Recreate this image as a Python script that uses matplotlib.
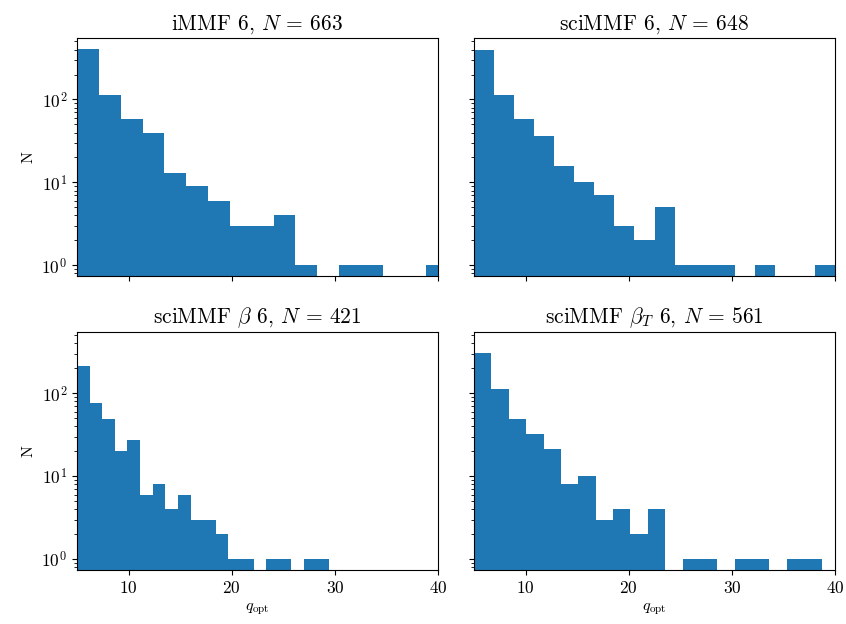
import numpy as np
import matplotlib
matplotlib.use('Agg')
import matplotlib.pyplot as plt

plt.rcParams['font.family'] = 'serif'
plt.rcParams['font.serif'] = ['cmr10']
plt.rcParams['mathtext.fontset'] = 'cm'
plt.rcParams['axes.formatter.use_mathtext'] = True

# histogram counts per panel
titles = ['iMMF 6, $N$ = 663', 'sciMMF 6, $N$ = 648',
          r'sciMMF $\beta$ 6, $N$ = 421', r'sciMMF $\beta_T$ 6, $N$ = 561']

counts_immf = [411, 113, 58, 39, 13, 9, 6, 3, 3, 4, 1, 0, 1, 1, 0, 0, 1]
counts_sci = [393, 113, 58, 36, 16, 10, 7, 3, 2, 5, 1, 1, 1, 0, 1, 0, 0, 1]
counts_beta = [210, 77, 49, 20, 27, 6, 8, 4, 6, 3, 3, 2, 1, 1, 0, 1, 1, 0, 1, 1]
counts_betat = [309, 113, 49, 32, 21, 8, 10, 3, 4, 2, 4, 0, 1, 1, 0, 1, 1, 0, 1, 1]

# bin range (min, max) of q_opt in each panel
ranges = [(5, 41), (5, 40), (5, 29.47), (5, 38.7)]

all_counts = [counts_immf, counts_sci, counts_beta, counts_betat]

fig, axes = plt.subplots(2, 2, sharex=True, sharey=True, figsize=(8.46, 6.24), dpi=100)
fig.subplots_adjust(left=0.091, right=0.987, top=0.939, bottom=0.0865,
                    wspace=0.1, hspace=0.233)

for ax, title, counts, (lo, hi) in zip(axes.flat, titles, all_counts, ranges):
    edges = np.linspace(lo, hi, len(counts) + 1)
    ax.hist(edges[:-1], bins=edges, weights=counts, log=True, color='#1f77b4')
    ax.set_title(title, fontsize=15.5)
    ax.tick_params(labelsize=12.5)

for ax in axes[:, 0]:
    ax.set_ylabel('N', fontsize=11.5)
for ax in axes[1, :]:
    ax.set_xlabel(r'$q_\mathrm{opt}$', fontsize=11.5)

axes[0, 0].set_xlim(5, 40)
axes[0, 0].set_ylim(0.74, 550)
axes[0, 0].set_xticks([10, 20, 30, 40])

fig.savefig('out.png', dpi=100)
